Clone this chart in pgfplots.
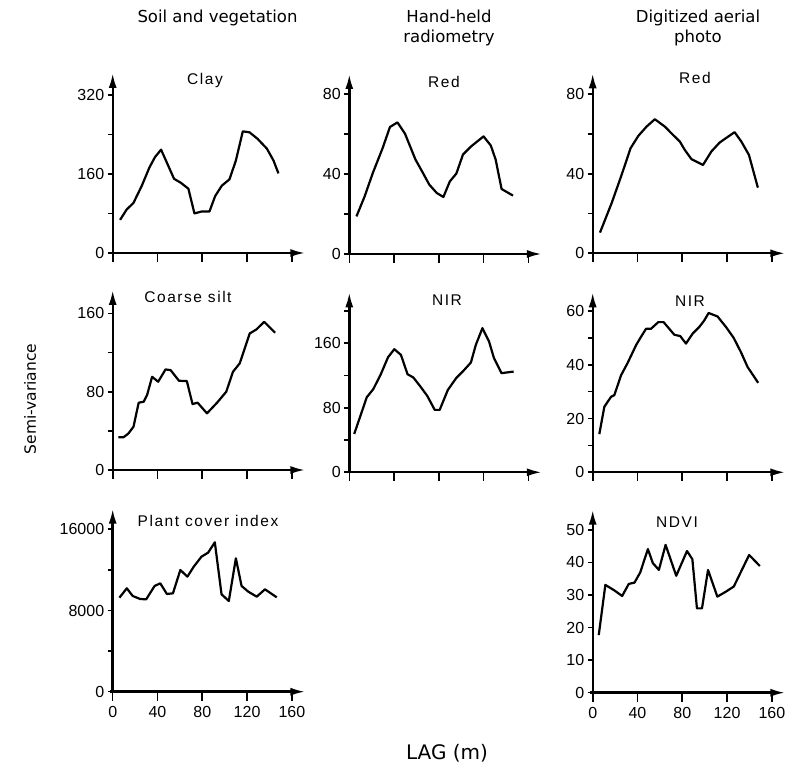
\documentclass[border=0pt]{standalone}
\usepackage{pgfplots}
\pgfplotsset{compat=1.18}
\usepackage{fontspec}
\usetikzlibrary{arrows.meta}
\setmainfont{DejaVu Sans}
\newfontfamily\tickfamily{Liberation Sans}
\newfontfamily\titlefamily[LetterSpace=10]{Liberation Sans}
\newcommand\tickfont{\tickfamily\fontsize{16}{18}\selectfont}
\newcommand\titlefont{\titlefamily\fontsize{15.5}{18}\selectfont}
\newcommand\headfont{\fontsize{16.5}{20}\selectfont}
% heavy axis lines with arrow heads and long x ticks, drawn inside each axis
\newcommand\drawpanelaxes{%
  \draw[black, line width=2.4pt, -{Latex[length=15pt,width=8pt]}] (rel axis cs:-0.015,0) -- (rel axis cs:1,0);
  \draw[black, line width=2.4pt, -{Latex[length=15pt,width=8pt]}] (rel axis cs:0,0) -- (rel axis cs:0,1);
  \pgfplotsinvokeforeach{0,40,80,120,160}{\draw[black, line width=1.6pt] (axis cs:##1,0) -- ++(0,-9pt);}}

\pgfplotsset{
  panel/.style={
    scale only axis, width=192.6pt, height=180pt,
    anchor=south west, clip=false,
    xmin=0, xmax=172, ymin=0,
    axis x line*=bottom, axis y line*=left,
    x axis line style={draw=none}, y axis line style={draw=none},
    tick align=outside, major tick length=5pt,
    every tick/.append style={line width=1.6pt, black},
    xtick={0,40,...,160}, xticklabels={},
    scaled ticks=false,
    tick label style={font=\tickfont},
    /pgf/number format/assume math mode=true,
    cycle list={{black, mark=none}},
    every axis plot/.append style={line width=2.2pt, line join=round},
  },
  bottom/.style={xticklabels={0,40,80,120,160}, xticklabel style={yshift=-6pt}},
}

\begin{document}
\begin{tikzpicture}
\path[use as bounding box] (0pt,0pt) rectangle (785pt,770pt);

% row 1
\begin{axis}[panel, at={(112.7pt,517pt)}, ymax=364,
  ytick={0,80,...,320}, yticklabels={0,,160,,320}]
\addplot coordinates {(6.6,67) (12.5,88) (18.5,101) (26,136) (32.8,173) (37.8,194)
 (43.2,209) (48.9,180) (54.8,150) (60.8,142) (67.6,130) (73,80) (79.6,84) (86.4,84)
 (91.5,115) (97.4,136) (104.3,149) (110,187) (116.2,246) (122.2,244) (129.3,231)
 (137.7,211) (143.6,187) (148,161)};
\drawpanelaxes
\end{axis}

\begin{axis}[panel, at={(349.3pt,516pt)}, ymax=90,
  ytick={0,20,...,80}, yticklabels={0,,40,,80}]
\addplot coordinates {(6.4,18.8) (13.7,28.8) (21,40.5) (29.8,53) (36.3,63.5) (43,65.8)
 (49.7,60.2) (59.1,47.2) (65,41.3) (71.4,34.7) (78.1,30.5) (84,28.5) (89.8,36.3)
 (95.6,40.2) (101.5,49.7) (108.8,53.8) (119.9,58.8) (126.4,54.2) (130.7,47.2)
 (136,32.5) (146.2,29.2)};
\drawpanelaxes
\end{axis}

\begin{axis}[panel, at={(592.7pt,516.7pt)}, ymax=90.5,
  ytick={0,20,...,80}, yticklabels={0,,40,,80}]
\addplot coordinates {(6.5,10.4) (16.9,25.2) (25.8,39.4) (33.8,52.8) (40.7,59)
 (48.1,63.7) (55.5,67.4) (64.4,63.7) (71.8,59.5) (77.8,56.2) (82.2,52) (88.2,47.3)
 (98.5,44.4) (106,51.2) (113.4,55.7) (126.7,60.9) (132.7,56.2) (139.5,49.5) (147.5,33)};
\drawpanelaxes
\end{axis}

% row 2
\begin{axis}[panel, at={(112.7pt,300pt)}, ymax=184,
  ytick={0,40,...,160}, yticklabels={0,,80,,160}]
\addplot coordinates {(5.1,33.4) (9.6,33.4) (14.1,37.4) (18.6,44.3) (23.2,68.8)
 (27.7,69.8) (30.7,76.6) (35.2,95.3) (40.6,90.2) (47.2,102.8) (51.7,102.1) (59.2,91.2)
 (66.2,90.9) (71.3,67.4) (75.8,68.8) (84.2,57.9) (93.2,68.8) (101.4,80) (107.4,100.4)
 (113.4,108.9) (119.4,129.4) (122.4,139.6) (128.4,143.7) (135.3,151.5) (145,140.3)};
\drawpanelaxes
\end{axis}

\begin{axis}[panel, at={(349.3pt,297.7pt)}, ymax=223,
  ytick={0,40,...,200}, yticklabels={0,,80,,160,}]
\addplot coordinates {(4.4,47.5) (9.7,69) (15.6,93) (21.4,103) (27.9,120.7) (34.6,142.6)
 (40.2,152.5) (46.1,145.5) (52,121.5) (57.2,117.4) (63.1,107) (69.6,94.7) (76.3,77.3)
 (80.7,77.3) (88,102) (95.4,116.6) (101.3,124.8) (108.6,136) (113,157.9) (118.9,178.6)
 (124.8,162) (129.2,141.4) (135.9,122.8) (146.8,124.8)};
\drawpanelaxes
\end{axis}

\begin{axis}[panel, at={(592.7pt,297.7pt)}, ymax=67,
  ytick={0,10,...,60}, yticklabels={0,,20,,40,,60}]
\addplot coordinates {(5.9,14.2) (10.4,24.4) (16.4,28.1) (19.3,28.7) (25.3,36.1)
 (31.2,40.7) (38.7,47.3) (43.1,50.4) (47.6,53.4) (52,53.4) (58.6,55.9) (63.3,55.9)
 (72.9,51.2) (78.2,50.7) (83.3,47.9) (89.2,51.6) (95.2,54.1) (99.6,56.5) (103.5,59.3)
 (111.5,58) (119,54.1) (125.8,50.1) (132.3,44.8) (138.3,39.2) (147.8,33.3)};
\drawpanelaxes
\end{axis}

% row 3
\begin{axis}[panel, bottom, at={(112.7pt,78.3pt)}, height=183pt, ymax=18030,
  ytick={0,4000,...,16000}, yticklabels={0,,8000,,16000}]
\addplot coordinates {(6,9264) (12.6,10184) (17.9,9428) (24.5,9133) (29.9,9100)
 (37.4,10414) (42.5,10677) (48.4,9625) (53.8,9691) (60.4,11991) (66.7,11334)
 (72.4,12319) (79.3,13305) (85.2,13699) (91.2,14717) (97.2,9592) (103.7,8936)
 (110,13141) (115.1,10414) (121.1,9855) (128.6,9362) (136,10085) (146.5,9297)};
\drawpanelaxes
\end{axis}

\begin{axis}[panel, bottom, at={(592.7pt,77.3pt)}, height=183pt, ymax=56.2,
  ytick={0,10,...,50}, yticklabels={0,10,20,30,40,50}]
\addplot coordinates {(5.4,17.7) (11.3,33.1) (19.4,31.4) (26.3,29.7) (32.2,33.4)
 (37.3,33.8) (42.4,36.9) (49.3,44.1) (53.7,39.8) (59.1,37.7) (65.1,45.4) (74.6,35.9)
 (84.2,43.5) (89,41) (93.1,25.9) (97.6,25.9) (103,37.7) (111.3,29.5) (118.8,31)
 (126,32.6) (139.7,42.3) (149.3,38.9)};
\drawpanelaxes
\end{axis}

% panel titles
\node[font=\titlefont] at (205pt,689pt) {Clay};
\node[font=\titlefont] at (444pt,688pt) {Red};
\node[font=\titlefont] at (695pt,692pt) {Red};
\node[font=\titlefont] at (188pt,473pt) {Coarse silt};
\node[font=\titlefont] at (447pt,470pt) {NIR};
\node[font=\titlefont] at (690pt,469pt) {NIR};
\node[font=\titlefont] at (208pt,249pt) {Plant cover index};
\node[font=\titlefont] at (677pt,248pt) {NDVI};

% headers and axis titles
\node[font=\headfont] at (217.5pt,752pt) {Soil and vegetation};
\node[font=\headfont, align=center] at (449pt,742pt) {Hand-held\\radiometry};
\node[font=\headfont, align=center] at (698pt,742pt) {Digitized aerial\\photo};
\node[font=\fontsize{15.5}{18}\selectfont, rotate=90] at (30pt,371pt) {Semi-variance};
\node[font=\fontsize{20}{22}\selectfont] at (447pt,17pt) {LAG (m)};
\end{tikzpicture}
\end{document}
